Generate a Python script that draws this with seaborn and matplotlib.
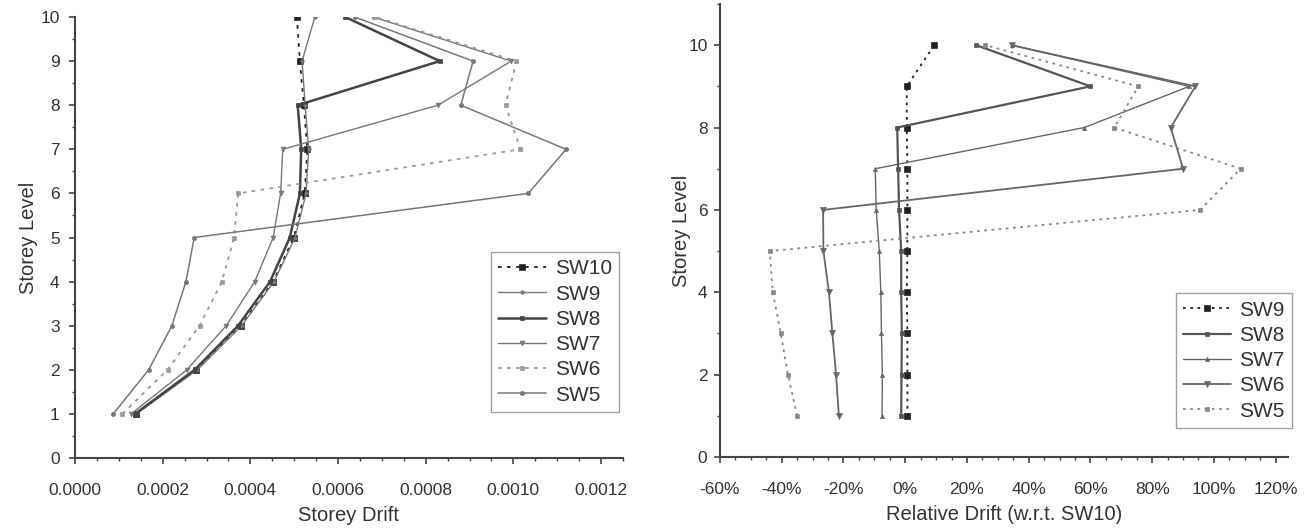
import matplotlib
matplotlib.use("Agg")
import matplotlib.pyplot as plt
import seaborn as sns
import numpy as np
from matplotlib.ticker import MultipleLocator, PercentFormatter, FormatStrFormatter

sns.set_theme(style="white")
plt.rcParams['font.family'] = ['Liberation Sans', 'DejaVu Sans']
plt.rcParams['axes.unicode_minus'] = False

storeys = [1, 2, 3, 4, 5, 6, 7, 8, 9, 10]

# Left panel: storey drift
drift_sw10 = [0.000139, 0.000277, 0.000378, 0.000452, 0.000499, 0.000524, 0.000530, 0.000522, 0.000513, 0.000506]
drift_sw9 = [0.000140, 0.000279, 0.000380, 0.000454, 0.000502, 0.000527, 0.000533, 0.000525, 0.000518, 0.000547]
drift_sw8 = [0.000137, 0.000273, 0.000372, 0.000445, 0.000490, 0.000513, 0.000516, 0.000508, 0.000832, 0.000616]
drift_sw7 = [0.000128, 0.000255, 0.000345, 0.000410, 0.000452, 0.000469, 0.000474, 0.000828, 0.000995, 0.000680]
drift_sw6 = [0.000108, 0.000211, 0.000284, 0.000335, 0.000363, 0.000372, 0.001016, 0.000982, 0.001007, 0.000685]
drift_sw5 = [0.0000874, 0.000168, 0.000221, 0.000253, 0.000272, 0.001034, 0.001120, 0.000880, 0.000908, 0.000638]

# Right panel: relative drift (%) w.r.t. SW10
rel_sw9 = [0.7, 0.7, 0.7, 0.5, 0.7, 0.7, 0.7, 0.5, 0.5, 9.4]
rel_sw8 = [-1.3, -1.2, -1.1, -1.3, -1.3, -2.0, -2.3, -2.6, 60.0, 23.0]
rel_sw7 = [-7.5, -7.4, -7.7, -7.9, -8.4, -9.4, -9.7, 58.0, 92.0, 34.5]
rel_sw6 = [-21.5, -22.4, -23.6, -24.7, -26.5, -26.6, 90.0, 86.0, 94.0, 34.5]
rel_sw5 = [-35.0, -38.0, -40.3, -42.9, -43.9, 95.5, 108.7, 67.7, 75.5, 26.0]

left_series = [
    ("SW10", drift_sw10, dict(color="#222222", lw=1.3, ls=(0, (2, 3)), marker="s", ms=4.5)),
    ("SW9", drift_sw9, dict(color="#777777", lw=1.0, ls="-", marker="o", ms=2.5)),
    ("SW8", drift_sw8, dict(color="#444444", lw=1.8, ls="-", marker="s", ms=3.5)),
    ("SW7", drift_sw7, dict(color="#777777", lw=1.0, ls="-", marker="v", ms=3.5)),
    ("SW6", drift_sw6, dict(color="#999999", lw=1.3, ls=(0, (2, 3)), marker="s", ms=3.5)),
    ("SW5", drift_sw5, dict(color="#777777", lw=1.1, ls="-", marker="o", ms=3)),
]

right_series = [
    ("SW9", rel_sw9, dict(color="#222222", lw=1.3, ls=(0, (1.5, 2.5)), marker="s", ms=4.5)),
    ("SW8", rel_sw8, dict(color="#555555", lw=1.6, ls="-", marker="s", ms=3.5)),
    ("SW7", rel_sw7, dict(color="#666666", lw=1.0, ls="-", marker="^", ms=3)),
    ("SW6", rel_sw6, dict(color="#666666", lw=1.3, ls="-", marker="v", ms=4)),
    ("SW5", rel_sw5, dict(color="#888888", lw=1.3, ls=(0, (1.5, 2.5)), marker="s", ms=3.5)),
]

fig = plt.figure(figsize=(13.07, 5.31), dpi=100)
axL = fig.add_axes([75 / 1307, 1 - 458 / 531, (623 - 75) / 1307, (458 - 17) / 531])
axR = fig.add_axes([720 / 1307, 1 - 457 / 531, (1288 - 720) / 1307, (457 - 4) / 531])

for name, vals, st in left_series:
    sns.lineplot(x=vals, y=storeys, ax=axL, sort=False, estimator=None, label=name,
                 color=st["color"], linewidth=st["lw"], linestyle=st["ls"],
                 marker=st["marker"], markersize=st["ms"], markeredgewidth=0.5,
                 markeredgecolor=st["color"])

for name, vals, st in right_series:
    sns.lineplot(x=vals, y=storeys, ax=axR, sort=False, estimator=None, label=name,
                 color=st["color"], linewidth=st["lw"], linestyle=st["ls"],
                 marker=st["marker"], markersize=st["ms"], markeredgewidth=0.5,
                 markeredgecolor=st["color"])

for ax in (axL, axR):
    for s in ("top", "right"):
        ax.spines[s].set_visible(False)
    for s in ("left", "bottom"):
        ax.spines[s].set_color("#444444")
        ax.spines[s].set_linewidth(1.5)
    ax.tick_params(which="major", direction="out", length=4, width=1.2, color="#444444",
                   labelsize=12.5, labelcolor="#333333", bottom=True, left=True)
    ax.tick_params(which="minor", direction="out", length=2.5, width=1.0, color="#444444",
                   bottom=True, left=True)
    ax.tick_params(axis="x", which="major", pad=14)
    ax.grid(False)

axL.tick_params(axis="y", which="major", pad=7)
axR.tick_params(axis="y", which="major", pad=5)

axL.set_xlim(0, 0.00125)
axL.set_ylim(0, 10)
axL.xaxis.set_major_locator(MultipleLocator(0.0002))
axL.xaxis.set_minor_locator(MultipleLocator(0.00005))
axL.xaxis.set_major_formatter(FormatStrFormatter("%.4f"))
axL.yaxis.set_major_locator(MultipleLocator(1))
axL.yaxis.set_minor_locator(MultipleLocator(0.5))
axL.set_xlabel("Storey Drift", fontsize=14.5, color="#333333", labelpad=6)
axL.set_ylabel("Storey Level", fontsize=14.5, color="#333333", labelpad=2)

axR.set_xlim(-60, 124)
axR.set_ylim(0, 11)
axR.xaxis.set_major_locator(MultipleLocator(20))
axR.xaxis.set_minor_locator(MultipleLocator(5))
axR.xaxis.set_major_formatter(PercentFormatter(decimals=0))
axR.yaxis.set_major_locator(MultipleLocator(2))
axR.yaxis.set_minor_locator(MultipleLocator(1))
axR.set_xlabel("Relative Drift (w.r.t. SW10)", fontsize=14.5, color="#333333", labelpad=6)
axR.set_ylabel("Storey Level", fontsize=14.5, color="#333333", labelpad=-2)

legL = axL.legend(loc="lower right", bbox_to_anchor=(619 / 1307, 1 - 412 / 531),
                  bbox_transform=fig.transFigure, fontsize=15, frameon=True, fancybox=False,
                  handlelength=2.3, handletextpad=0.4, borderpad=0.35, labelspacing=0.3,
                  borderaxespad=0)
legL.get_frame().set_edgecolor("#888888")
legL.get_frame().set_linewidth(1.0)

legR = axR.legend(loc="lower right", bbox_to_anchor=(1292 / 1307, 1 - 428 / 531),
                  bbox_transform=fig.transFigure, fontsize=15, frameon=True, fancybox=False,
                  handlelength=2.3, handletextpad=0.4, borderpad=0.35, labelspacing=0.3,
                  borderaxespad=0)
legR.get_frame().set_edgecolor("#888888")
legR.get_frame().set_linewidth(1.0)

for leg in (legL, legR):
    for t in leg.get_texts():
        t.set_color("#333333")

fig.savefig("out.png", dpi=100)
